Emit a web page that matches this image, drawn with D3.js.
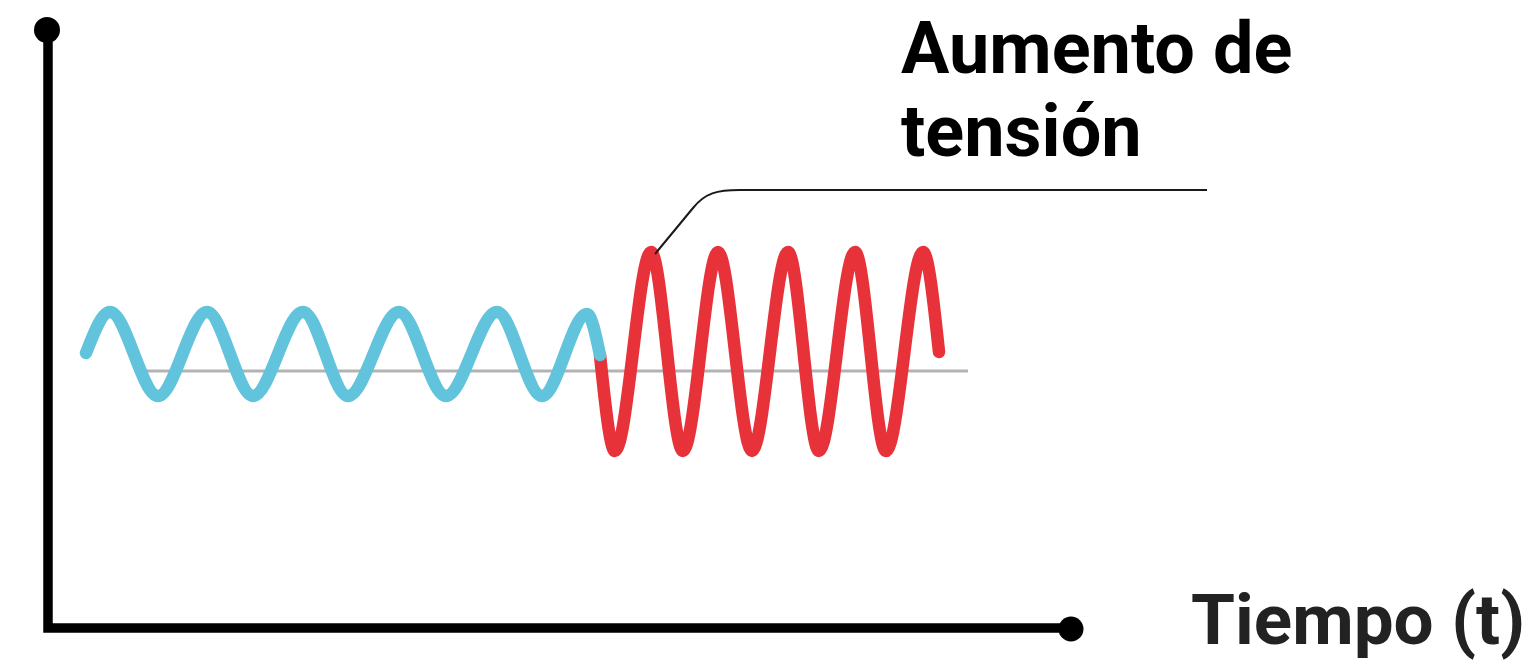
<!DOCTYPE html>
<html>
<head>
<meta charset="utf-8">
<script src="https://cdn.jsdelivr.net/npm/d3@7/dist/d3.min.js"></script>
<style>
  html, body { margin: 0; padding: 0; background: #fff; }
  svg { display: block; }
</style>
</head>
<body>
<svg id="chart" width="1538" height="661"></svg>
<script>
// ---- Data (time units, value units; baseline value = 0) ----
const blueTime  = [38, 62, 110, 159, 205, 255, 300, 351, 398, 449, 494, 539, 552];
const blueValue = [18, 59, -25, 59, -25, 59, -25, 59, -25, 59, -25, 57, 16];
const redTime   = [552, 567, 603, 635, 670, 704, 740, 771, 807, 838, 875, 891];
const redValue  = [16, -80, 119, -80, 119, -80, 119, -80, 119, -80, 119, 19];
const baselineTime = [98, 920];
const annotationLabel = ["Aumento de", "tensión"];
const axisLabel = "Tiempo (t)";
// annotation leader: from red peak to label
const leaderTime  = [607, 645, 692, 1159];
const leaderValue = [117, 163, 181, 181];

// ---- Scales ----
const x = d3.scaleLinear().domain([0, 1023]).range([48, 1071]);
const y = d3.scaleLinear().domain([-257, 341]).range([628, 30]);

const svg = d3.select("#chart");

const line = d3.line()
  .x(d => x(d[0]))
  .y(d => y(d[1]))
  .curve(d3.curveMonotoneX);

// baseline
svg.append("line")
  .attr("x1", x(baselineTime[0])).attr("x2", x(baselineTime[1]))
  .attr("y1", y(0)).attr("y2", y(0))
  .attr("stroke", "#b3b3b3").attr("stroke-width", 3);

// red wave
svg.append("path")
  .datum(d3.zip(redTime, redValue))
  .attr("d", line)
  .attr("fill", "none")
  .attr("stroke", "#e8323a")
  .attr("stroke-width", 12.5)
  .attr("stroke-linecap", "round")
  .attr("stroke-linejoin", "round");

// blue wave
svg.append("path")
  .datum(d3.zip(blueTime, blueValue))
  .attr("d", line)
  .attr("fill", "none")
  .attr("stroke", "#62c3dc")
  .attr("stroke-width", 12.5)
  .attr("stroke-linecap", "round")
  .attr("stroke-linejoin", "round");

// axes
const x0 = x(0), xEnd = x(1023), yTop = y(341), yBot = y(-257);
svg.append("path")
  .attr("d", `M${x0},${yTop} V${yBot} H${xEnd}`)
  .attr("fill", "none")
  .attr("stroke", "#000")
  .attr("stroke-width", 9.5)
  .attr("stroke-linejoin", "miter");
svg.append("circle").attr("cx", x0 - 1).attr("cy", yTop).attr("r", 13).attr("fill", "#000");
svg.append("circle").attr("cx", xEnd).attr("cy", yBot + 1).attr("r", 12.5).attr("fill", "#000");

// annotation leader
const p = leaderTime.map((t, i) => [x(t), y(leaderValue[i])]);
svg.append("path")
  .attr("d", `M${p[0][0]},${p[0][1]} L${p[1][0]},${p[1][1]} C${p[1][0]+12},${p[1][1]-15} ${p[1][0]+24},${p[2][1]} ${p[2][0]},${p[2][1]} L${p[3][0]},${p[3][1]}`)
  .attr("fill", "none")
  .attr("stroke", "#1a1a1a")
  .attr("stroke-width", 2);

// annotation text
const ann = svg.append("text")
  .attr("font-family", "Roboto, sans-serif")
  .attr("font-weight", 700)
  .attr("font-size", 72)
  .attr("fill", "#000");
ann.append("tspan").attr("x", 901).attr("y", 73).text(annotationLabel[0]);
ann.append("tspan").attr("x", 901).attr("y", 156).text(annotationLabel[1]);

// axis label
svg.append("text")
  .attr("x", 1191).attr("y", 644)
  .attr("font-family", "Roboto, sans-serif")
  .attr("font-weight", 700)
  .attr("font-size", 71)
  .attr("fill", "#222")
  .text(axisLabel);
</script>
</body>
</html>
